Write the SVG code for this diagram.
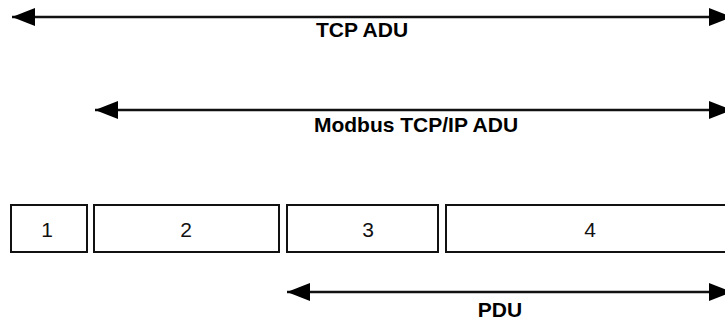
<svg xmlns="http://www.w3.org/2000/svg" width="725" height="322" viewBox="0 0 725 322">
<style>
.box{fill:#fff;stroke:#111;stroke-width:2}
.num{font-family:"Liberation Sans",Arial,sans-serif;font-size:21px;fill:#111;text-anchor:middle}
.lbl{font-family:"Liberation Sans",Arial,sans-serif;font-size:21px;font-weight:bold;fill:#000;text-anchor:middle}
.arr{stroke:#111;stroke-width:2.5;fill:none;marker-start:url(#ah);marker-end:url(#ah)}
</style>
<defs>
<marker id="ah" markerUnits="userSpaceOnUse" markerWidth="24" markerHeight="20" refX="23" refY="9" orient="auto-start-reverse" viewBox="0 0 24 18">
<path d="M0,0 L23,9 L0,18 Z" fill="#000"/>
</marker>
</defs>
<rect width="725" height="322" fill="#fff"/>
<g id="connectors">
<line class="arr" x1="12" y1="17" x2="732" y2="17"/>
<line class="arr" x1="95" y1="110" x2="732" y2="110"/>
<line class="arr" x1="287" y1="292" x2="732" y2="292"/>
</g>
<g id="lbl-tcp"><text class="lbl" x="362" y="37">TCP ADU</text></g>
<g id="lbl-modbus"><text class="lbl" x="416" y="132">Modbus TCP/IP ADU</text></g>
<g id="lbl-pdu"><text class="lbl" x="500" y="317">PDU</text></g>
<g id="box1"><rect class="box" x="11" y="205" width="76" height="47"/><text class="num" x="47" y="237">1</text></g>
<g id="box2"><rect class="box" x="94" y="205" width="185" height="47"/><text class="num" x="186" y="237">2</text></g>
<g id="box3"><rect class="box" x="287" y="205" width="151" height="47"/><text class="num" x="368" y="237">3</text></g>
<g id="box4"><rect class="box" x="446" y="205" width="290" height="47"/><text class="num" x="590" y="237">4</text></g>
</svg>
